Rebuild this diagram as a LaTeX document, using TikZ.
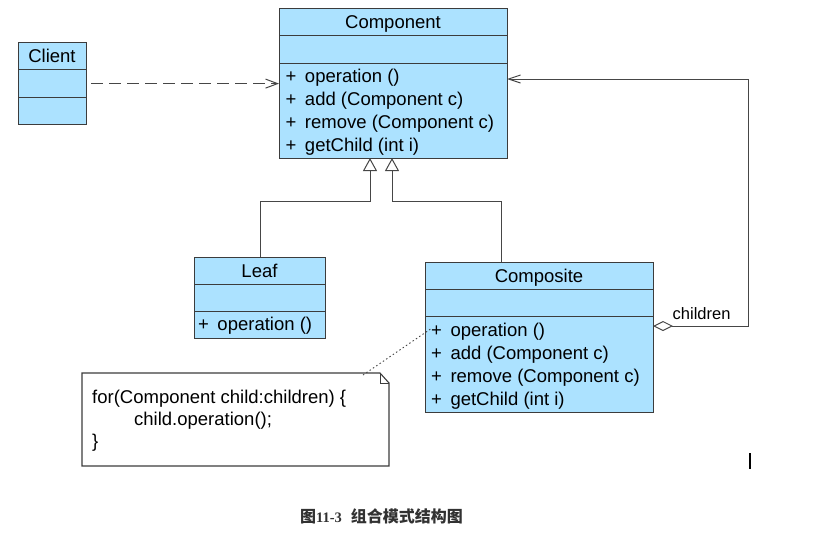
\documentclass[tikz,border=0pt]{standalone}
\usepackage{fontspec}
\setmainfont{Liberation Sans}
\newfontfamily\cjkfont{Noto Sans CJK SC}
\newfontfamily\capserif{Liberation Serif}
\usetikzlibrary{arrows.meta}
\definecolor{umlblue}{RGB}{172,226,255}
\definecolor{bdr}{RGB}{60,60,60}
\definecolor{lin}{RGB}{70,70,70}
\definecolor{capcol}{RGB}{50,50,50}
\newcommand\umlfont{\fontsize{18.5}{22}\selectfont}
\tikzset{
  cls/.style={draw=bdr, fill=umlblue, line width=1.2pt, inner sep=0pt, anchor=north west},
  sepline/.style={draw=bdr, line width=1pt},
  txt/.style={font=\umlfont, inner sep=0pt, anchor=base west},
  ttl/.style={font=\umlfont, inner sep=0pt, anchor=base},
  conn/.style={draw=lin, line width=1pt},
  dep/.style={conn, dash pattern=on 12pt off 6pt, -{Straight Barb[length=12pt,width=9pt,line width=1pt]}},
  gen/.style={conn, -{Triangle[open,length=13pt,width=14pt,fill=white]}},
  agg/.style={conn, {Diamond[open,length=20pt,width=10pt,fill=white]}-{Straight Barb[length=12pt,width=8pt,line width=1pt]}},
  notedot/.style={draw=lin, line width=0.9pt, dash pattern=on 1.5pt off 2.5pt},
}
\begin{document}
\begin{tikzpicture}[x=1pt,y=-1pt]
\useasboundingbox (0,0) rectangle (825,542);
% Component
\node[cls, minimum width=228pt, minimum height=150pt] (comp) at (279,8) {};
\draw[sepline] (279,35) -- (507,35);
\draw[sepline] (279,63) -- (507,63);
\node[ttl] (compt) at (393,28) {Component};
\node[txt] (compo1) at (285.5,82) {+\hspace{8.5pt}operation ()};
\node[txt] (compo2) at (285.5,105) {+\hspace{8.5pt}add (Component c)};
\node[txt] (compo3) at (285.5,128) {+\hspace{8.5pt}remove (Component c)};
\node[txt] (compo4) at (285.5,151) {+\hspace{8.5pt}getChild (int i)};
% Client
\node[cls, minimum width=68pt, minimum height=82pt] (client) at (18,42) {};
\draw[sepline] (18,69) -- (86,69);
\draw[sepline] (18,97) -- (86,97);
\node[ttl] (clientt) at (52,62.5) {Client};
% Leaf
\node[cls, minimum width=131pt, minimum height=81pt] (leaf) at (194,257) {};
\draw[sepline] (194,284) -- (325,284);
\draw[sepline] (194,311) -- (325,311);
\node[ttl] (leaft) at (259.5,277) {Leaf};
\node[txt] (leafo1) at (198,330) {+\hspace{8.5pt}operation ()};
% Composite
\node[cls, minimum width=228pt, minimum height=150pt] (compo) at (425,262) {};
\draw[sepline] (425,289) -- (653,289);
\draw[sepline] (425,316) -- (653,316);
\node[ttl] (compot) at (539,282) {Composite};
\node[txt] (compoo1) at (431,336) {+\hspace{8.5pt}operation ()};
\node[txt] (compoo2) at (431,359) {+\hspace{8.5pt}add (Component c)};
\node[txt] (compoo3) at (431,382) {+\hspace{8.5pt}remove (Component c)};
\node[txt] (compoo4) at (431,405) {+\hspace{8.5pt}getChild (int i)};
% dependency
\draw[dep, shorten <=4pt] (client.east) -- (client.east -| comp.west);
% generalizations
\coordinate (gl) at (370,158);
\coordinate (jl) at (370,201);
\coordinate (gr) at (392,158);
\coordinate (jr) at (392,201);
\coordinate (cr) at (501,262);
\draw[gen] (leaf.north) |- (jl) -- (gl);
\draw[gen] (cr) |- (jr) -- (gr);
% aggregation
\coordinate (as) at (653,326);
\coordinate (ac) at (748,79);
\coordinate (ae) at (507,79);
\draw[agg] (as) -| (ac) -- (ae);
\node[txt, font=\fontsize{16.5}{20}\selectfont] (childlbl) at (672.5,319) {children};
% note
\draw[draw=bdr, fill=white, line width=1.1pt] (82,373) -- (380,373) -- (389,383) -- (389,466) -- (82,466) -- cycle;
\draw[draw=bdr, line width=0.9pt] (380,373) -- (380,383) -- (389,383);
\node[txt] (n1) at (92,403) {for(Component child:children) \{};
\node[txt] (n2) at (134,425) {child.operation();};
\node[txt] (n3) at (92,447) {\}};
\coordinate (nd1) at (363,375);
\coordinate (nd2) at (432,328);
\draw[notedot] (nd1) -- (nd2);
% stray mark
\draw[line width=2pt, black] (750,453) -- (750,469);
% caption
\node[inner sep=0pt, anchor=base west, text=capcol] (cap) at (300,522)
  {\cjkfont\bfseries\fontsize{16}{17}\selectfont 图{\capserif\bfseries\fontsize{14.5}{17}\selectfont 11-3}\hspace{9pt}组合模式结构图};
\end{tikzpicture}
\end{document}
